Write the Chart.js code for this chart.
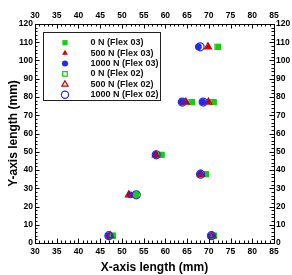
<!DOCTYPE html>
<html lang="en">
<head>
  <meta charset="UTF-8" />
  <title>Flex sensor positions</title>
  <script src="https://cdn.jsdelivr.net/npm/chart.js"></script>
  <style>
    body {
      margin: 0;
      background: white;
    }
    #chart {
      display: block;
    }
  </style>
</head>
<body>
  <canvas id="chart" width="292" height="275"></canvas>

  <script>
    // measured points, one y list shared by all series
    const yValues     = [107.5, 77.2, 77.2, 48.3, 37.7, 26.4, 4.0, 4.0];
    const xFlex03_0   = [72.2, 66.2, 71.2, 59.2, 69.4, 53.3, 48.0, 71.2];
    const xFlex03_500 = [69.9, 64.9, 70.0, 57.9, 68.2, 51.7, 47.4, 70.8];
    const xFlex03_1k  = [67.6, 63.8, 68.6, 57.8, 68.0, 51.9, 46.9, 70.5];
    const xFlex02_0   = [72.0, 66.0, 71.0, 59.0, 69.3, 53.2, 47.9, 71.1];
    const xFlex02_500 = [69.8, 64.7, 69.9, 57.8, 68.2, 51.6, 47.3, 70.8];
    const xFlex02_1k  = [68.0, 63.9, 68.7, 57.9, 68.1, 53.3, 47.0, 70.6];

    const seriesLabels = ['0 N (Flex 03)', '500 N (Flex 03)', '1000 N (Flex 03)',
                          '0 N (Flex 02)', '500 N (Flex 02)', '1000 N (Flex 02)'];
    const xTicks = [30, 35, 40, 45, 50, 55, 60, 65, 70, 75, 80, 85];
    const yTicks = [0, 10, 20, 30, 40, 50, 60, 70, 80, 90, 100, 110, 120];

    const GREEN = 'rgb(20, 205, 20)';
    const RED = 'rgb(205, 0, 0)';
    const BLUE = 'rgb(40, 40, 235)';
    const tickFont = { family: '"Liberation Sans", Arial, sans-serif', size: 8.5, weight: 'bold' };
    const titleFont = { family: '"Liberation Sans", Arial, sans-serif', size: 12, weight: 'bold' };

    function pts(xs) {
      return xs.map((x, i) => ({ x: x, y: yValues[i] }));
    }

    const datasets = [
      { label: seriesLabels[0], data: pts(xFlex03_0), pointStyle: 'rect', pointRadius: 4.1,
        backgroundColor: GREEN, borderColor: GREEN, borderWidth: 0, order: 6 },
      { label: seriesLabels[1], data: pts(xFlex03_500), pointStyle: 'triangle', pointRadius: 3.8,
        backgroundColor: RED, borderColor: RED, borderWidth: 0, order: 5 },
      { label: seriesLabels[2], data: pts(xFlex03_1k), pointStyle: 'circle', pointRadius: 3.4,
        backgroundColor: BLUE, borderColor: BLUE, borderWidth: 0, order: 4 },
      { label: seriesLabels[3], data: pts(xFlex02_0), pointStyle: 'rect', pointRadius: 3.6,
        backgroundColor: 'transparent', borderColor: GREEN, borderWidth: 1.2, order: 3 },
      { label: seriesLabels[4], data: pts(xFlex02_500), pointStyle: 'triangle', pointRadius: 4,
        backgroundColor: 'transparent', borderColor: RED, borderWidth: 1.2, order: 2 },
      { label: seriesLabels[5], data: pts(xFlex02_1k), pointStyle: 'circle', pointRadius: 4,
        backgroundColor: 'transparent', borderColor: BLUE, borderWidth: 1.2, order: 1 }
    ];

    function fixSize(prop, val) {
      return function (scale) { scale[prop] = val; };
    }

    function linearAxis(position, range, ticks, pad, size, title) {
      const horiz = position === 'top' || position === 'bottom';
      return {
        type: 'linear',
        position: position,
        min: range[0],
        max: range[1],
        afterBuildTicks: scale => { scale.ticks = ticks.map(v => ({ value: v })); },
        afterFit: fixSize(horiz ? 'height' : 'width', size),
        grid: { display: false, drawTicks: false },
        border: { display: true, color: '#000', width: 1 },
        ticks: { font: tickFont, color: '#000', padding: pad, maxRotation: 0, autoSkip: false },
        title: title
      };
    }

    // inward major/minor ticks on all four sides
    const inwardTicks = {
      id: 'inwardTicks',
      afterDraw(chart) {
        const ctx = chart.ctx;
        const a = chart.chartArea;
        const sx = chart.scales.x, sy = chart.scales.y;
        ctx.save();
        ctx.strokeStyle = '#000';
        ctx.lineWidth = 1;
        ctx.beginPath();
        for (let v = 30; v <= 85; v += 1) {
          const px = Math.round(sx.getPixelForValue(v)) + 0.5;
          const len = v % 5 === 0 ? 4.5 : 2.5;
          ctx.moveTo(px, a.bottom); ctx.lineTo(px, a.bottom - len);
          ctx.moveTo(px, a.top); ctx.lineTo(px, a.top + len);
        }
        for (let v = 0; v <= 120; v += 2) {
          const py = Math.round(sy.getPixelForValue(v)) + 0.5;
          const len = v % 10 === 0 ? 4.5 : 2.5;
          ctx.moveTo(a.left, py); ctx.lineTo(a.left + len, py);
          ctx.moveTo(a.right, py); ctx.lineTo(a.right - len, py);
        }
        ctx.stroke();
        ctx.restore();
      }
    };

    // boxed legend inside the plot, top left
    const boxLegend = {
      id: 'boxLegend',
      afterDraw(chart) {
        const ctx = chart.ctx;
        ctx.save();
        ctx.fillStyle = 'white';
        ctx.fillRect(43, 32, 117, 68);
        ctx.strokeStyle = '#222';
        ctx.lineWidth = 1;
        ctx.strokeRect(43.5, 32.5, 117, 68);
        ctx.font = 'bold 9px "Liberation Sans", Arial, sans-serif';
        ctx.textBaseline = 'middle';
        ctx.textAlign = 'left';
        chart.data.datasets.forEach((ds, i) => {
          const y = 42.7 + i * 10.4;
          ctx.fillStyle = ds.backgroundColor;
          ctx.strokeStyle = ds.borderColor;
          ctx.lineWidth = ds.borderWidth;
          Chart.helpers.drawPoint(ctx, {
            pointStyle: ds.pointStyle,
            radius: ds.pointRadius * 0.9,
            rotation: 0,
            borderWidth: ds.borderWidth
          }, 65, y);
          ctx.fillStyle = '#111';
          ctx.fillText(ds.label, 90.5, y);
        });
        ctx.restore();
      }
    };

    new Chart(document.getElementById('chart').getContext('2d'), {
      type: 'scatter',
      data: { datasets },
      options: {
        responsive: false,
        animation: false,
        layout: { padding: 0 },
        plugins: { legend: { display: false }, tooltip: { enabled: false } },
        scales: {
          x: linearAxis('bottom', [30, 85], xTicks, 4, 32,
            { display: true, text: 'X-axis length (mm)', font: titleFont, color: '#000', padding: { top: 4, bottom: 0 } }),
          x2: linearAxis('top', [30, 85], xTicks, 3, 24, { display: false }),
          y: linearAxis('left', [0, 120], yTicks, 2, 35,
            { display: true, text: 'Y-axis length (mm)', font: titleFont, color: '#000', padding: { top: 6, bottom: 0 } }),
          y2: linearAxis('right', [0, 120], yTicks, 2, 18, { display: false })
        }
      },
      plugins: [inwardTicks, boxLegend]
    });
  </script>
</body>
</html>
